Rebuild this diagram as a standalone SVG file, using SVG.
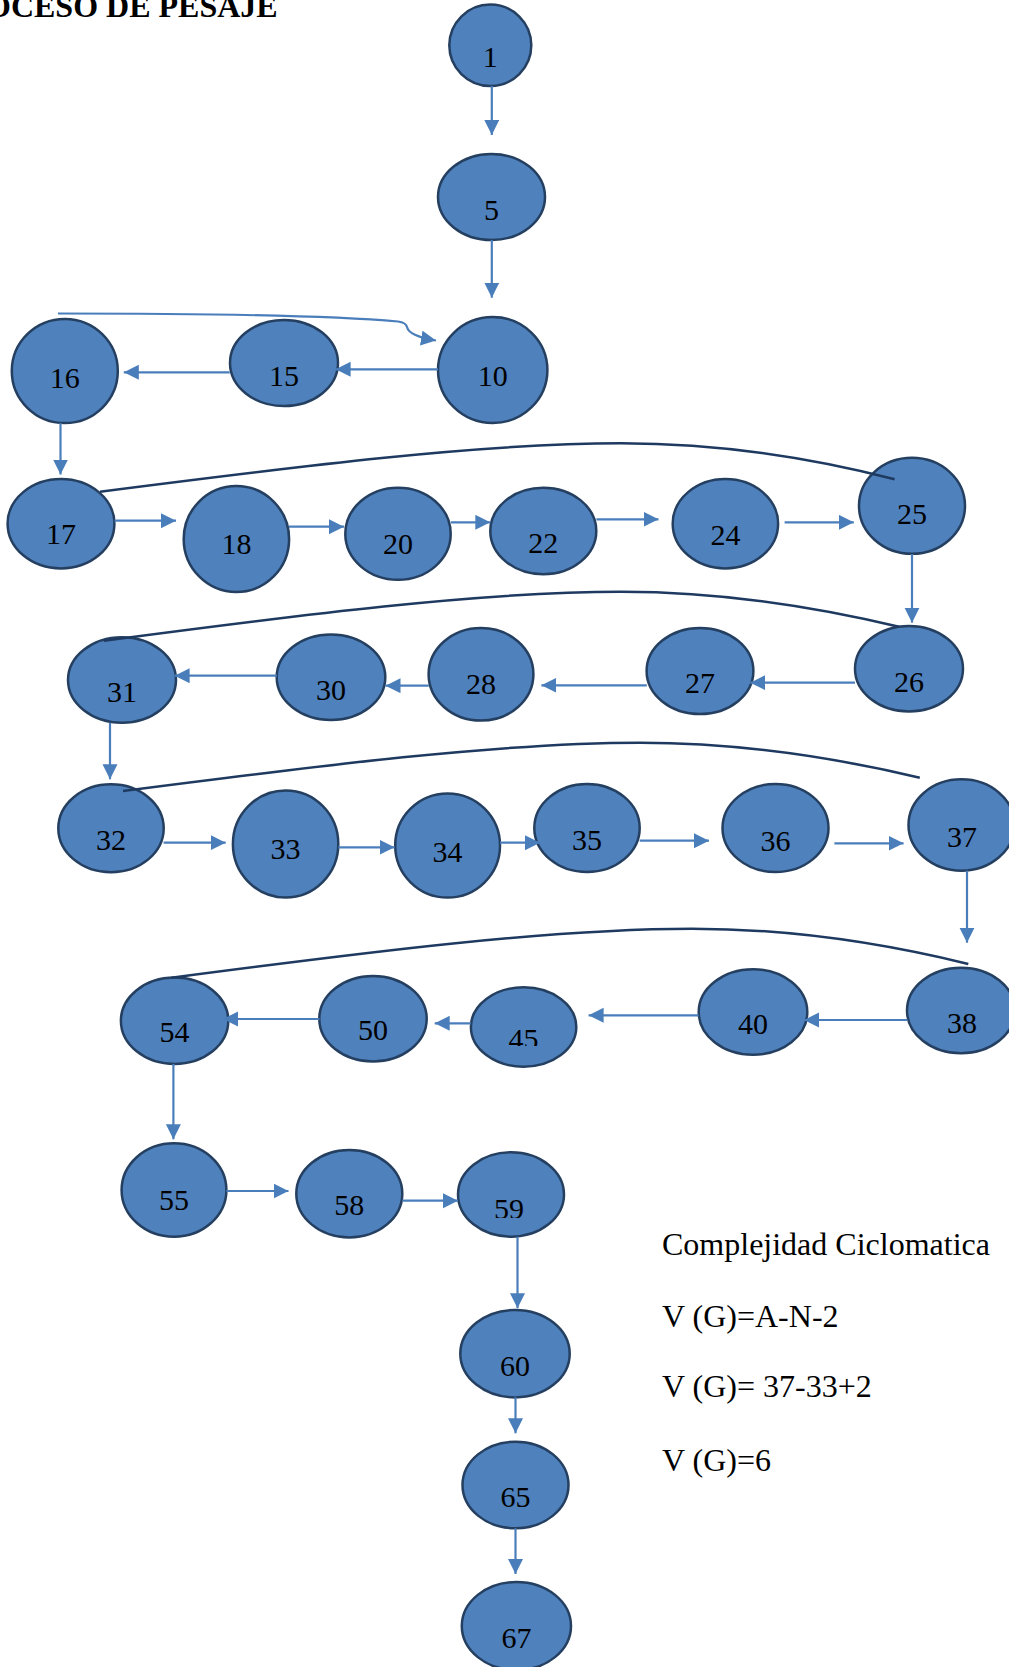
<svg xmlns="http://www.w3.org/2000/svg" width="1009" height="1667" viewBox="0 0 1009 1667">
  <style>
    .node ellipse { fill: #4F81BD; stroke: #243F60; stroke-width: 2.5; }
    .node text { font-family: "Liberation Serif", "Times New Roman", serif; font-size: 30px; fill: #000; text-anchor: middle; }
    .edge { fill: none; stroke: #4A7EBB; stroke-width: 2.2; marker-end: url(#arrow); }
    .loop { fill: none; stroke: #1F3A60; stroke-width: 2.5; }
    .title { font-family: "Liberation Serif", "Times New Roman", serif; font-size: 32px; font-weight: bold; fill: #000; }
    .note { font-family: "Liberation Serif", "Times New Roman", serif; font-size: 32px; fill: #000; }
  </style>
  <defs>
    <marker id="arrow" markerUnits="userSpaceOnUse" markerWidth="16" markerHeight="16" refX="15" refY="7.5" orient="auto">
      <path d="M0,0 L15,7.5 L0,15 z" fill="#4A7EBB"/>
    </marker>
    <clipPath id="clip45"><rect x="470" y="990" width="110" height="56"/></clipPath>
    <clipPath id="clip59"><rect x="458" y="1155" width="110" height="63"/></clipPath>
  </defs>

  <rect x="0" y="0" width="1009" height="1667" fill="#ffffff"/>

  <text class="title" x="-14" y="17">OCESO DE PESAJE</text>

  <!-- nodes -->
  <g id="n1" class="node"><ellipse cx="490.3" cy="45.3" rx="41" ry="40.7"/><text x="490.3" y="66.7">1</text></g>
  <g id="n5" class="node"><ellipse cx="491.5" cy="197" rx="53.5" ry="43"/><text x="491.5" y="220">5</text></g>
  <g id="n10" class="node"><ellipse cx="492.7" cy="370" rx="54.7" ry="53"/><text x="492.7" y="386">10</text></g>
  <g id="n15" class="node"><ellipse cx="284" cy="363" rx="54" ry="43"/><text x="284" y="386">15</text></g>
  <g id="n16" class="node"><ellipse cx="64.8" cy="371" rx="53" ry="52"/><text x="64.8" y="388">16</text></g>
  <g id="n17" class="node"><ellipse cx="61" cy="523.7" rx="53.4" ry="44.7"/><text x="61" y="544">17</text></g>
  <g id="n18" class="node"><ellipse cx="236.4" cy="539" rx="52.7" ry="53"/><text x="236.4" y="554">18</text></g>
  <g id="n20" class="node"><ellipse cx="398" cy="533.8" rx="52.7" ry="46"/><text x="398" y="554">20</text></g>
  <g id="n22" class="node"><ellipse cx="543.3" cy="531" rx="53" ry="43.3"/><text x="543.3" y="553">22</text></g>
  <g id="n24" class="node"><ellipse cx="725.4" cy="523.7" rx="52.7" ry="44.7"/><text x="725.4" y="545">24</text></g>
  <g id="n25" class="node"><ellipse cx="912" cy="505.8" rx="53" ry="48"/><text x="912" y="524.3">25</text></g>
  <g id="n26" class="node"><ellipse cx="909" cy="668.8" rx="54" ry="42.8"/><text x="909" y="691.7">26</text></g>
  <g id="n27" class="node"><ellipse cx="700" cy="671" rx="53.4" ry="43"/><text x="700" y="693.3">27</text></g>
  <g id="n28" class="node"><ellipse cx="481" cy="674.3" rx="52.4" ry="46.3"/><text x="481" y="694">28</text></g>
  <g id="n30" class="node"><ellipse cx="331" cy="677.3" rx="54.3" ry="42.7"/><text x="331" y="700">30</text></g>
  <g id="n31" class="node"><ellipse cx="122" cy="680" rx="54" ry="42.7"/><text x="122" y="701.7">31</text></g>
  <g id="n32" class="node"><ellipse cx="111" cy="828.3" rx="52.7" ry="44"/><text x="111" y="850">32</text></g>
  <g id="n33" class="node"><ellipse cx="285.6" cy="844" rx="52.7" ry="53.5"/><text x="285.6" y="859.3">33</text></g>
  <g id="n34" class="node"><ellipse cx="447.6" cy="845.5" rx="52.4" ry="52"/><text x="447.6" y="861.7">34</text></g>
  <g id="n35" class="node"><ellipse cx="587" cy="828" rx="52.7" ry="44"/><text x="587" y="850">35</text></g>
  <g id="n36" class="node"><ellipse cx="775.5" cy="828" rx="53" ry="44"/><text x="775.5" y="850.7">36</text></g>
  <g id="n37" class="node"><ellipse cx="961.5" cy="825" rx="53" ry="45.7"/><text x="962" y="846.7">37</text></g>
  <g id="n38" class="node"><ellipse cx="961" cy="1010.5" rx="54" ry="42.8"/><text x="962" y="1032.7">38</text></g>
  <g id="n40" class="node"><ellipse cx="753" cy="1012" rx="54.3" ry="42.8"/><text x="753" y="1034.3">40</text></g>
  <g id="n45" class="node"><ellipse cx="523.6" cy="1027" rx="52.7" ry="39.7"/><text x="523.6" y="1049" clip-path="url(#clip45)">45</text></g>
  <g id="n50" class="node"><ellipse cx="373" cy="1018.8" rx="53.7" ry="42.8"/><text x="373" y="1040">50</text></g>
  <g id="n54" class="node"><ellipse cx="174.6" cy="1020.8" rx="53.7" ry="43.2"/><text x="174.6" y="1042.3">54</text></g>
  <g id="n55" class="node"><ellipse cx="174" cy="1190" rx="52.4" ry="46.7"/><text x="174" y="1210">55</text></g>
  <g id="n58" class="node"><ellipse cx="349.3" cy="1193.7" rx="53" ry="43.7"/><text x="349.3" y="1215">58</text></g>
  <g id="n59" class="node"><ellipse cx="511" cy="1194.5" rx="53" ry="42.2"/><text x="509" y="1219" clip-path="url(#clip59)">59</text></g>
  <g id="n60" class="node"><ellipse cx="515" cy="1353.7" rx="54.7" ry="43.7"/><text x="515" y="1376">60</text></g>
  <g id="n65" class="node"><ellipse cx="515.5" cy="1485" rx="53" ry="43.3"/><text x="515.5" y="1507.3">65</text></g>
  <g id="n67" class="node"><ellipse cx="516.4" cy="1626" rx="54.6" ry="44"/><text x="516.4" y="1648.3">67</text></g>

  <!-- connectors -->
  <g id="connectors">
    <line class="edge" x1="491.8" y1="86" x2="491.8" y2="135"/>
    <line class="edge" x1="491.8" y1="240" x2="491.8" y2="297.7"/>
    <line class="edge" x1="438" y1="369.3" x2="335.6" y2="369.3"/>
    <line class="edge" x1="229.7" y1="372.3" x2="123.8" y2="372.3"/>
    <path class="edge" d="M58,313.5 C180,313.5 330,315.5 398,321.5 Q406,322.5 407,327 Q409,336 436,340.5"/>
    <line class="edge" x1="60.5" y1="423" x2="60.5" y2="474.5"/>
    <line class="edge" x1="114.5" y1="520.7" x2="176" y2="520.7"/>
    <line class="edge" x1="289" y1="526.7" x2="344" y2="526.7"/>
    <line class="edge" x1="450.8" y1="522.3" x2="490.3" y2="522.3"/>
    <line class="edge" x1="596.4" y1="519.3" x2="658.5" y2="519.3"/>
    <line class="edge" x1="784.6" y1="522.3" x2="853.8" y2="522.3"/>
    <line class="edge" x1="912" y1="554" x2="912" y2="622.7"/>
    <line class="edge" x1="855" y1="682.7" x2="750.3" y2="682.7"/>
    <line class="edge" x1="646.8" y1="685.3" x2="541.4" y2="685.3"/>
    <line class="edge" x1="428.8" y1="685.7" x2="385.5" y2="685.7"/>
    <line class="edge" x1="276.8" y1="675.7" x2="174.6" y2="675.7"/>
    <line class="edge" x1="110" y1="722.7" x2="110" y2="779.3"/>
    <line class="edge" x1="163.6" y1="842.7" x2="225.7" y2="842.7"/>
    <line class="edge" x1="338.3" y1="847.3" x2="394.6" y2="847.3"/>
    <line class="edge" x1="500" y1="842.7" x2="540" y2="842.7"/>
    <line class="edge" x1="639.7" y1="840.7" x2="709" y2="840.7"/>
    <line class="edge" x1="834.4" y1="843.3" x2="903.6" y2="843.3"/>
    <line class="edge" x1="967" y1="870.7" x2="967" y2="942.7"/>
    <line class="edge" x1="907.5" y1="1020" x2="804" y2="1020"/>
    <line class="edge" x1="698.6" y1="1015.3" x2="588.6" y2="1015.3"/>
    <line class="edge" x1="470.9" y1="1023.3" x2="434.7" y2="1023.3"/>
    <line class="edge" x1="319.5" y1="1019" x2="223" y2="1019"/>
    <line class="edge" x1="173.4" y1="1064" x2="173.4" y2="1139.3"/>
    <line class="edge" x1="226.4" y1="1191" x2="288.5" y2="1191"/>
    <line class="edge" x1="402.3" y1="1200.7" x2="458" y2="1200.7"/>
    <line class="edge" x1="517.5" y1="1236.7" x2="517.5" y2="1308.3"/>
    <line class="edge" x1="515.5" y1="1397.3" x2="515.5" y2="1433.3"/>
    <line class="edge" x1="515.5" y1="1528.3" x2="515.5" y2="1574"/>

    <!-- return arcs -->
    <path class="loop" d="M100,491.7 C298,466.3 480,443.3 621,443.3 C731,443.3 828.7,462.3 894.6,479.3"/>
    <path class="loop" d="M104,640.7 C300.5,614.7 481.4,591.7 621,591.7 C732,591.7 832.3,610.7 899,626.7"/>
    <path class="loop" d="M123,791 C319.5,765.7 500.4,742.7 640,742.7 C752,742.7 852.6,761.7 919.8,777.7"/>
    <path class="loop" d="M171.4,977.7 C369.2,951.7 551.4,928.7 692,928.7 C802.5,928.7 902,947.7 968.3,964"/>
  </g>

  <!-- cyclomatic complexity -->
  <text class="note" x="662" y="1255">Complejidad Ciclomatica</text>
  <text class="note" x="662" y="1326.5">V (G)=A-N-2</text>
  <text class="note" x="662" y="1397.3">V (G)= 37-33+2</text>
  <text class="note" x="662" y="1470.7">V (G)=6</text>
</svg>
